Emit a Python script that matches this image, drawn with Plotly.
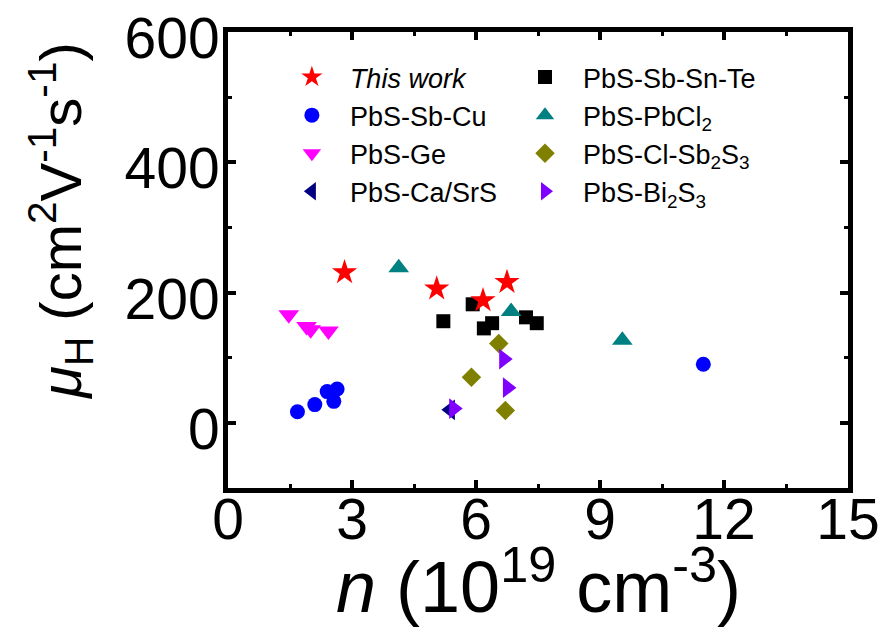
import plotly.graph_objects as go

# ---- data (n in 1e19 cm^-3, mobility in cm2/Vs) ----
this_work_n = [2.82, 5.05, 6.17, 6.75]
this_work_mu = [231, 206, 188, 216]

sbcu_n = [1.68, 2.10, 2.40, 2.64, 2.56, 11.5]
sbcu_mu = [17, 28, 48, 52, 33, 90]

ge_n = [1.47, 1.90, 2.00, 2.43]
ge_mu = [166, 148, 143, 141]

casrs_n = [5.38]
casrs_mu = [20]

sbsnte_n = [5.21, 5.92, 6.19, 6.39, 7.21, 7.47]
sbsnte_mu = [156, 182, 145, 153, 162, 153]

pbcl2_n = [4.13, 6.85, 9.54]
pbcl2_mu = [238, 171, 127]

clsb2s3_n = [6.55, 5.89, 6.71]
clsb2s3_mu = [122, 70, 19]

bi2s3_n = [6.67, 6.76, 5.46]
bi2s3_mu = [98, 54, 22]

FONT = "Liberation Sans, Arial, sans-serif"

series = [
    # name, x, y, symbol, color, size, legend, legendrank
    ("PbS-Sb-Cu", sbcu_n, sbcu_mu, "circle", "#0000FF", 15, "legend", 2),
    ("PbS-Ge", ge_n, ge_mu, "triangle-down", "#FF00FF", 18, "legend", 3),
    ("PbS-Ca/SrS", casrs_n, casrs_mu, "triangle-left", "#000080", 18, "legend", 4),
    ("PbS-Sb-Sn-Te", sbsnte_n, sbsnte_mu, "square", "#000000", 14, "legend2", 1),
    ("PbS-PbCl<sub>2</sub>", pbcl2_n, pbcl2_mu, "triangle-up", "#008080", 18, "legend2", 2),
    ("PbS-Cl-Sb<sub>2</sub>S<sub>3</sub>", clsb2s3_n, clsb2s3_mu, "diamond", "#808000", 15, "legend2", 3),
    ("PbS-Bi<sub>2</sub>S<sub>3</sub>", bi2s3_n, bi2s3_mu, "triangle-right", "#8000FF", 18, "legend2", 4),
    ("<i>This work</i>", this_work_n, this_work_mu, "star", "#FF0000", 19, "legend", 1),
]

fig = go.Figure()
for name, xs, ys, sym, col, sz, leg, rank in series:
    fig.add_trace(go.Scatter(
        x=xs, y=ys, mode="markers", name=name, legend=leg, legendrank=rank,
        marker=dict(symbol=sym, color=col, size=sz, line=dict(width=0)),
    ))

axis_common = dict(
    showline=True, linewidth=5, linecolor="black", mirror="ticks",
    ticks="inside", ticklen=8, tickwidth=4, tickcolor="black",
    showgrid=False, zeroline=False, automargin=False,
    ticklabeloverflow="allow",
    tickfont=dict(family=FONT, size=57, color="black"),
)

fig.update_xaxes(
    range=[0, 15], tick0=0, dtick=3,
    minor=dict(dtick=1.5, ticks="inside", ticklen=4, tickwidth=3, tickcolor="black"),
    ticklabelstandoff=-22,
    **axis_common,
)
fig.update_yaxes(
    range=[-100, 600], tick0=0, dtick=200,
    minor=dict(dtick=100, ticks="inside", ticklen=4, tickwidth=3, tickcolor="black"),
    ticklabelstandoff=-8, ticklabelshift=6,
    **axis_common,
)

# axis titles as annotations for exact placement
fig.add_annotation(
    text="<i>n</i> (10<sup>19</sup> cm<sup>-3</sup>)",
    xref="paper", yref="paper", x=0.5, y=-0.206,
    xanchor="center", yanchor="middle", showarrow=False,
    font=dict(family=FONT, size=72, color="black"),
)
fig.add_annotation(
    text="<i>μ</i><sub>H</sub> (cm<sup>2</sup>V<sup>-1</sup>s<sup>-1</sup>)",
    xref="paper", yref="paper", x=-0.27, y=0.585,
    xanchor="center", yanchor="middle", textangle=-90, showarrow=False,
    font=dict(family=FONT, size=58, color="black"),
)

leg_common = dict(
    orientation="v", xanchor="left", yanchor="top", itemwidth=66,
    bgcolor="rgba(0,0,0,0)", borderwidth=0, tracegroupgap=0,
    font=dict(family=FONT, size=27, color="black"),
)

# the page body adds an 8px offset, so the margins are reduced by 8px on the top/left
fig.update_layout(
    width=886, height=637,
    margin=dict(l=220, r=46, t=24, b=157),
    paper_bgcolor="white", plot_bgcolor="white",
    showlegend=True,
    legend=dict(x=0.074, y=0.954, **leg_common),
    legend2=dict(x=0.45, y=0.954, **leg_common),
)

fig.write_html("out.html")
